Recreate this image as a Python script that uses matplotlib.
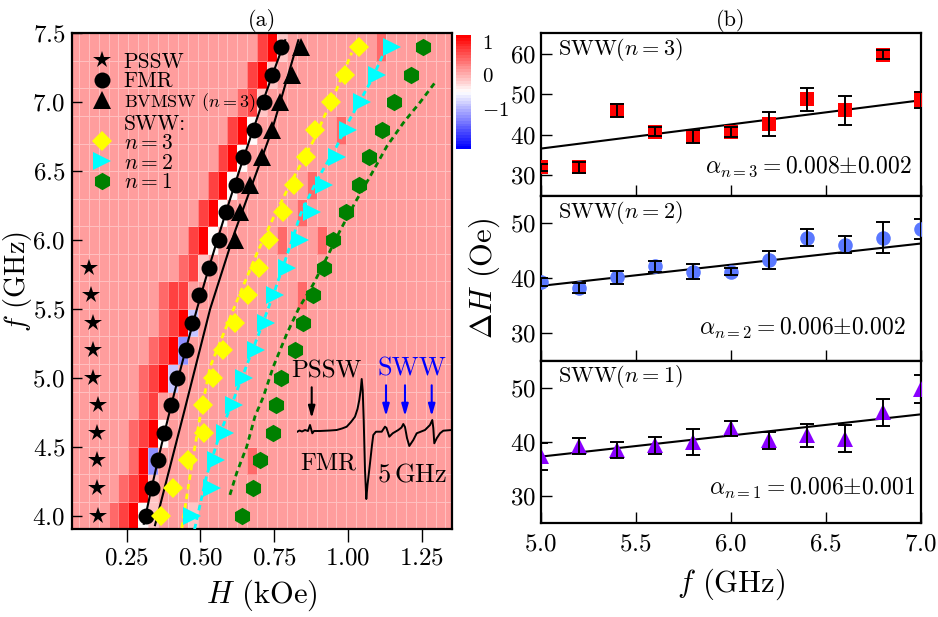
import matplotlib
matplotlib.use("Agg")
import matplotlib.pyplot as plt
import numpy as np
from matplotlib.colors import Normalize
from matplotlib.lines import Line2D

plt.rcParams["font.family"] = "cmr10"
plt.rcParams["mathtext.fontset"] = "cm"
plt.rcParams["axes.formatter.use_mathtext"] = True

# ---------------- panel (a) data ----------------
f_grid = [4.0, 4.2, 4.4, 4.6, 4.8, 5.0, 5.2, 5.4, 5.6, 5.8,
          6.0, 6.2, 6.4, 6.6, 6.8, 7.0, 7.2, 7.4]

# field grid of the map (kOe)
h_start, h_step, n_cols = 0.054, 0.0336, 39

# map levels, one string per frequency row (bottom row = 4.0 GHz)
level = {".": 0.15, "d": 0.45, "m": 0.75, "R": 1.15,
         "l": -0.1, "w": -0.45, "b": -0.85, "B": -1.2}
map_rows = [
    "....dmRwl...l",
    ".....dmRl",
    "......dRB.........d",
    "......dmRw",
    ".......dm",
    ".......dmRb",
    "........dmRB",
    ".........dmRb",
    ".........dmm...........d",
    "...........dml",
    "............mRw......d...d",
    ".............mRw.......d",
    "..............mRw.......d",
    "...............mRw",
    "................mRw........d",
    ".................dml",
    "..................mRl",
    "...................mRl.........d",
]

pssw_f = [4.0, 4.2, 4.4, 4.6, 4.8, 5.0, 5.2, 5.4, 5.6, 5.8]
pssw_H = [0.154, 0.148, 0.148, 0.148, 0.152, 0.137, 0.137, 0.135, 0.129, 0.122]

fmr_H = [0.316, 0.335, 0.357, 0.378, 0.399, 0.422, 0.450, 0.473, 0.495,
         0.529, 0.564, 0.588, 0.619, 0.645, 0.680, 0.716, 0.743, 0.774]

bvmsw_f = [6.0, 6.2, 6.4, 6.6, 6.8, 7.0, 7.2, 7.4]
bvmsw_H = [0.618, 0.634, 0.668, 0.710, 0.743, 0.770, 0.811, 0.840]

sww3_H = [0.366, 0.408, 0.459, 0.512, 0.509, 0.541, 0.578, 0.617, 0.662,
          0.699, 0.733, 0.779, 0.817, 0.858, 0.890, 0.944, 0.990, 1.038]
sww2_H = [0.472, 0.540, 0.553, 0.584, 0.615, 0.647, 0.688, 0.722, 0.753,
          0.795, 0.838, 0.878, 0.920, 0.962, 1.002, 1.047, 1.098, 1.149]
sww1_H = [0.640, 0.677, 0.702, 0.747, 0.756, 0.773, 0.819, 0.849, 0.880,
          0.919, 0.951, 0.994, 1.036, 1.073, 1.117, 1.158, 1.213, 1.253]

# theory curves
bv_line_f = [3.93, 4.73, 5.50, 6.05, 6.80, 7.45]
bv_line_H = [0.346, 0.442, 0.533, 0.615, 0.743, 0.832]
sww3_line_f = [3.91, 4.36, 4.72, 5.08, 5.35, 5.61, 5.90, 6.16, 6.43, 6.72, 6.91, 7.07, 7.18, 7.36]
sww3_line_H = [0.437, 0.470, 0.499, 0.533, 0.584, 0.634, 0.691, 0.747, 0.810, 0.883, 0.923, 0.957, 0.979, 1.013]
sww2_line_f = [3.90, 4.29, 4.60, 4.84, 5.08, 5.33, 5.62, 5.90, 6.19, 6.43, 6.68, 6.87, 7.16, 7.35]
sww2_line_H = [0.480, 0.521, 0.567, 0.612, 0.655, 0.700, 0.750, 0.795, 0.840, 0.894, 0.962, 1.005, 1.080, 1.120]
sww1_line_f = [4.15, 4.31, 4.50, 4.72, 4.86, 5.08, 5.32, 5.51, 5.68, 5.87, 6.07, 6.27, 6.46, 6.68, 6.85, 7.00, 7.15]
sww1_line_H = [0.600, 0.623, 0.657, 0.685, 0.713, 0.747, 0.793, 0.835, 0.883, 0.928, 0.974, 1.024, 1.075, 1.132, 1.188, 1.245, 1.298]

# inset spectrum at 5 GHz (arbitrary units)
spec_x = [0.003, 0.025, 0.05, 0.08, 0.11, 0.13, 0.153, 0.17, 0.23, 0.33, 0.397, 0.45,
          0.497, 0.54, 0.58, 0.605, 0.623, 0.637, 0.647, 0.657, 0.667, 0.68, 0.693,
          0.705, 0.73, 0.75, 0.763, 0.79, 0.847, 0.865, 0.88, 0.895, 0.923, 0.957,
          1.013, 1.045, 1.063, 1.08, 1.10, 1.123, 1.163, 1.197, 1.28, 1.33, 1.353,
          1.363, 1.373, 1.397, 1.43, 1.463, 1.547]
spec_y = [-0.014, 0.01, -0.01, 0.02, 0.0, 0.12, -0.046, 0.0, 0.0, 0.01, 0.02, 0.05,
          0.086, 0.18, 0.286, 0.44, 0.62, 0.82, 1.04, 0.82, 0.22, -0.78, -1.36,
          -1.08, -0.646, -0.28, -0.08, -0.014, -0.014, 0.04, 0.086, 0.06, -0.114, -0.046,
          0.02, 0.07, 0.14, 0.08, -0.14, -0.3, -0.18, -0.046, 0.02, 0.12, 0.22,
          0.06, -0.246, -0.146, -0.046, 0.006, 0.02]
pssw_arrow_x = [0.147]
sww_arrow_x = [0.89, 1.08, 1.347]

# ---------------- panel (b) data ----------------
f_b = [5.0, 5.2, 5.4, 5.6, 5.8, 6.0, 6.2, 6.4, 6.6, 6.8, 7.0]
dH3 = [32.0, 32.0, 46.0, 40.8, 39.7, 40.7, 42.6, 48.7, 46.0, 59.7, 48.5]
err3 = [0.9, 1.3, 1.7, 1.0, 1.6, 1.2, 2.9, 2.9, 3.6, 1.1, 2.0]
dH2 = [39.3, 38.2, 40.2, 42.2, 41.2, 41.2, 43.3, 47.4, 46.1, 47.4, 48.9]
err2 = [0.8, 0.9, 1.2, 1.0, 1.4, 0.7, 1.6, 1.6, 1.6, 2.9, 1.8]
dH1 = [37.4, 39.2, 38.5, 39.4, 40.0, 42.5, 40.3, 41.2, 40.6, 45.5, 49.8]
err1 = [2.5, 1.5, 1.5, 1.6, 2.4, 1.4, 1.6, 2.2, 2.5, 2.5, 2.6]
f_fit = [5.0, 7.0]
fit3 = [36.6, 48.5]
fit2 = [38.6, 46.3]
fit1 = [37.3, 45.1]

W, HT = 938, 617
fig = plt.figure(figsize=(W / 100, HT / 100), dpi=100)


def box(l, t, r, b):
    return [l / W, 1 - b / HT, (r - l) / W, (b - t) / HT]


# ================= (a) =================
ax = fig.add_axes(box(72.3, 33.3, 451.7, 529.3))
grid = np.array([[level[c] for c in row.ljust(n_cols, ".")] for row in map_rows])
H_edges = h_start + h_step * np.arange(n_cols + 1)
f_edges = np.append(np.array(f_grid) - 0.1, f_grid[-1] + 0.1)
cmap = plt.get_cmap("bwr").resampled(40)
mesh = ax.pcolormesh(H_edges, f_edges, grid, cmap=cmap, norm=Normalize(-2.2, 1.2),
                     edgecolors=(1, 1, 1, 0.35), linewidth=0.6)

fmr_fit = np.polyfit(f_grid, fmr_H, 2)
ff = np.linspace(3.94, 7.45, 100)
ax.plot(np.polyval(fmr_fit, ff), ff, "k-", lw=1.5, zorder=3)
ax.plot(bv_line_H, bv_line_f, "k-", lw=1.5, zorder=3)
ax.plot(sww3_line_H, sww3_line_f, color="yellow", lw=2, dashes=(2, 1.5), zorder=3)
ax.plot(sww2_line_H, sww2_line_f, color="cyan", lw=2, dashes=(2, 1.5), zorder=3)
ax.plot(sww1_line_H, sww1_line_f, color="green", lw=2, dashes=(2, 1.5), zorder=3)

mk = {
    "pssw": dict(marker="*", color="k", ms=13),
    "fmr": dict(marker="o", color="k", ms=11.5),
    "bv": dict(marker="^", color="k", ms=12.5),
    "n3": dict(marker="D", color="yellow", ms=10),
    "n2": dict(marker=">", color="cyan", ms=12.5),
    "n1": dict(marker="h", color="green", ms=12.5),
}
ax.plot(pssw_H, pssw_f, ls="none", mew=0, zorder=4, **mk["pssw"])
ax.plot(fmr_H, f_grid, ls="none", mew=0, zorder=4, **mk["fmr"])
ax.plot(bvmsw_H, bvmsw_f, ls="none", mew=0, zorder=4, **mk["bv"])
ax.plot(sww3_H, f_grid, ls="none", mew=0, zorder=4, **mk["n3"])
ax.plot(sww2_H, f_grid, ls="none", mew=0, zorder=4, **mk["n2"])
ax.plot(sww1_H, f_grid, ls="none", mew=0, zorder=4, **mk["n1"])

ax.set_xlim(0.0655, 1.352)
ax.set_ylim(3.9, 7.5)
ax.set_xticks([0.25, 0.50, 0.75, 1.00, 1.25])
ax.set_yticks([4.0, 4.5, 5.0, 5.5, 6.0, 6.5, 7.0, 7.5])
ax.tick_params(axis="x", direction="out", length=9, width=1, labelsize=18, pad=4)
ax.tick_params(axis="y", direction="in", length=7, width=1, labelsize=18, pad=5)
for s in ax.spines.values():
    s.set_linewidth(1.6)
ax.set_xlabel(r"$H$ (kOe)", fontsize=22, labelpad=6)
ax.set_ylabel(r"$f$ (GHz)", fontsize=20.5)
ax.yaxis.set_label_coords(-0.1, 0.5)
ax.set_title("(a)", fontsize=16, pad=5)

handles = [Line2D([], [], ls="none", mew=0, **mk[k]) for k in ("pssw", "fmr", "bv")]
handles.append(Line2D([], [], ls="none"))
handles += [Line2D([], [], ls="none", mew=0, **mk[k]) for k in ("n3", "n2", "n1")]
labels = ["PSSW", "FMR", r"BVMSW $(n=3)$", "SWW:", r"$n=3$", r"$n=2$", r"$n=1$"]
leg = ax.legend(handles, labels, loc="upper left", frameon=False, fontsize=15.5,
                handlelength=1.0, handletextpad=0.5, labelspacing=0.0,
                borderaxespad=0.48, bbox_to_anchor=(0.0, 1.0))
leg.get_texts()[2].set_fontsize(13)

# colour bar
cax = fig.add_axes(box(456, 35, 471, 149.3))
cb = fig.colorbar(mesh, cax=cax, ticks=[1, 0, -1])
cb.outline.set_visible(False)
cax.tick_params(length=0, labelsize=15, pad=8)

# inset spectrum
axi = fig.add_axes(box(297, 378, 452, 500))
axi.set_axis_off()
axi.patch.set_alpha(0)
axi.plot(spec_x, spec_y, "k-", lw=1.4)
axi.set_xlim(0, 1.55)
axi.set_ylim(-1.38, 1.06)
for x in pssw_arrow_x:
    axi.annotate("", xy=(x, 0.2), xytext=(x, 0.93),
                 arrowprops=dict(arrowstyle="-|>,head_width=0.2,head_length=0.7",
                                 color="k", lw=1.5))
for x in sww_arrow_x:
    axi.annotate("", xy=(x, 0.24), xytext=(x, 0.97),
                 arrowprops=dict(arrowstyle="-|>,head_width=0.2,head_length=0.7",
                                 color="blue", lw=1.5))
axi.text(0.29, 1.19, "PSSW", fontsize=18, ha="center", va="center")
axi.text(1.147, 1.25, "SWW", fontsize=19, ha="center", va="center", color="blue")
axi.text(0.313, -0.646, "FMR", fontsize=17.5, ha="center", va="center")
axi.text(1.147, -0.88, r"5$\,$GHz", fontsize=19, ha="center", va="center")

# ================= (b) =================
rows_b = [
    (box(540.7, 33.3, 920.7, 195.7), dH3, err3, fit3, "s", "#ff0000", 9.5, (25, 65),
     [30, 40, 50, 60], "3", "0.008", "0.002", 0.976, 0.18),
    (box(540.7, 195.7, 920.7, 360.7), dH2, err2, fit2, "o", "#5a78ff", 10.5, (25, 55),
     [30, 40, 50], "2", "0.006", "0.002", 0.96, 0.196),
    (box(540.7, 360.7, 920.7, 523.3), dH1, err1, fit1, "^", "#8a00ff", 12, (25, 55),
     [30, 40, 50], "1", "0.006", "0.001", 0.985, 0.215),
]
axes_b = []
for rect, y, e, fit, m, col, ms, ylim, yt, n, a, da, tx, ty in rows_b:
    b = fig.add_axes(rect)
    b.plot(f_fit, fit, "k-", lw=1.5, zorder=2)
    b.plot(f_b, y, ls="none", marker=m, color=col, ms=ms, mew=0, zorder=3)
    b.errorbar(f_b, y, yerr=e, fmt="none", ecolor="k", elinewidth=1.4,
               capsize=5, capthick=1.4, zorder=4)
    b.set_xlim(5.0, 7.0)
    b.set_ylim(*ylim)
    b.set_yticks(yt)
    b.set_xticks([5.0, 5.5, 6.0, 6.5, 7.0])
    b.tick_params(direction="in", length=8, width=1, labelsize=18)
    for s in b.spines.values():
        s.set_linewidth(1.6)
    b.text(0.045, 0.9, r"SWW$(n=%s)$" % n, transform=b.transAxes, fontsize=16,
           va="center")
    b.text(tx, ty, r"$\alpha_{n=%s}=%s{\pm}%s$" % (n, a, da), transform=b.transAxes,
           fontsize=17, ha="right", va="center")
    axes_b.append(b)

axes_b[0].tick_params(labelbottom=False)
axes_b[1].tick_params(labelbottom=False)
axes_b[2].tick_params(axis="x", pad=7)
axes_b[2].set_xlabel(r"$f$ (GHz)", fontsize=22, labelpad=8)
axes_b[1].set_ylabel(r"$\Delta H$ (Oe)", fontsize=22, labelpad=6)
axes_b[0].set_title("(b)", fontsize=16, pad=5)

fig.savefig("out.png", dpi=100)
